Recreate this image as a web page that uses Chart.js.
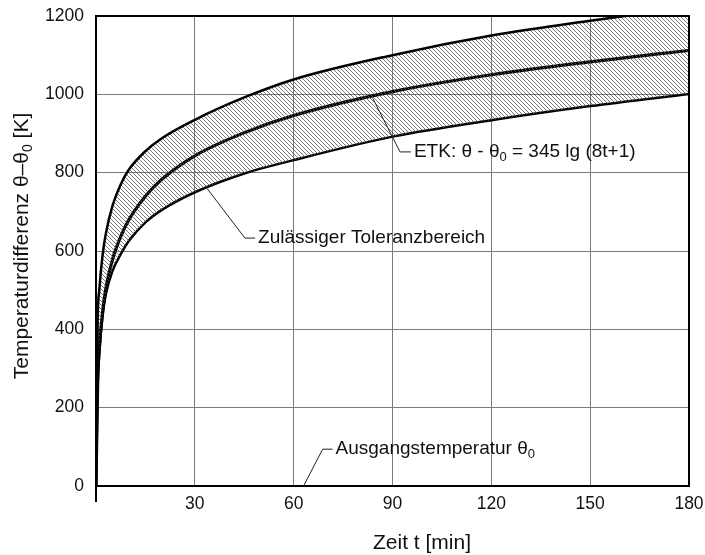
<!DOCTYPE html>
<html>
<head>
<meta charset="utf-8">
<script src="https://cdn.jsdelivr.net/npm/chart.js@4.4.1/dist/chart.umd.min.js"></script>
<style>
  body { margin: 0; background: #fff; }
  canvas { display: block; }
</style>
</head>
<body>
<canvas id="etkChart" width="705" height="555"></canvas>
<script>
// Einheits-Temperaturzeitkurve (ETK) mit Toleranzband

// -- Data --
const timeMin = [0, 0.5, 1, 2, 3, 5, 7.5, 10, 15, 20, 30, 45, 60, 90, 120, 150, 180];
const etkValues = [0, 262, 350, 445, 505, 578, 637, 680, 740, 783, 843, 902, 946, 1007, 1050, 1083, 1112];
const upperValues = [0, 420, 500, 590, 645, 715, 770, 808, 855, 888, 935, 992, 1038, 1100, 1150, 1188, 1222];
const lowerValues = [0, 250, 340, 435, 490, 549, 592, 626, 673, 705, 750, 798, 832, 892, 934, 970, 1001];
const xTicks = [0, 30, 60, 90, 120, 150, 180];
const yTicks = [0, 200, 400, 600, 800, 1000, 1200];

const FONT = "'Liberation Sans', Arial, sans-serif";

// callouts: leader start (on curve), bend, end, text parts [text, isSubscript]
const callouts = [
  { from: [84, 990], bend: [92.3, 853], to: [95.6, 853],
    text: [['ETK: θ - θ', false], ['0', true], [' = 345 lg (8t+1)', false]] },
  { from: [33.7, 760], bend: [45.2, 633], to: [48.3, 633],
    text: [['Zulässiger Toleranzbereich', false]] },
  { from: [63.0, 0], bend: [68.8, 94], to: [71.8, 94],
    text: [['Ausgangstemperatur θ', false], ['0', true]] }
];

const toPoints = vals => timeMin.map((t, i) => ({ x: t, y: vals[i] }));

// -- hatch pattern for the tolerance band --
function makeHatch() {
  const c = document.createElement('canvas');
  c.width = 4; c.height = 4;
  const g = c.getContext('2d');
  g.strokeStyle = '#555';
  g.lineWidth = 0.8;
  g.beginPath();
  g.moveTo(0, 0); g.lineTo(4, 4);
  g.moveTo(-1, 3); g.lineTo(1, 5);
  g.moveTo(3, -1); g.lineTo(5, 1);
  g.stroke();
  return g.createPattern(c, 'repeat');
}

// text with subscripts, returns width
function richText(ctx, parts, x, y, size, draw) {
  let w = 0;
  parts.forEach(([s, sub]) => {
    ctx.font = (sub ? Math.round(size * 0.68) : size) + 'px ' + FONT;
    if (draw) ctx.fillText(s, x + w, y + (sub ? size * 0.28 : 0));
    w += ctx.measureText(s).width;
  });
  return w;
}

const overlay = {
  id: 'overlay',
  afterDraw(chart) {
    const { ctx, chartArea: a, scales: { x, y } } = chart;
    ctx.save();
    // plot frame
    ctx.strokeStyle = '#000';
    ctx.lineWidth = 2;
    ctx.strokeRect(a.left, a.top, a.right - a.left, a.bottom - a.top);
    ctx.beginPath();
    ctx.moveTo(a.left, a.bottom);
    ctx.lineTo(a.left, a.bottom + 16);
    ctx.stroke();

    // callouts
    ctx.lineWidth = 1;
    ctx.strokeStyle = '#222';
    ctx.fillStyle = '#111';
    ctx.textBaseline = 'middle';
    callouts.forEach(c => {
      const p = v => [x.getPixelForValue(v[0]), y.getPixelForValue(v[1])];
      const [x0, y0] = p(c.from), [x1, y1] = p(c.bend), [x2, y2] = p(c.to);
      ctx.beginPath();
      ctx.moveTo(x0, y0); ctx.lineTo(x1, y1); ctx.lineTo(x2, y2);
      ctx.stroke();
      richText(ctx, c.text, x2 + 3, y2, 19, true);
    });

    // axis titles
    const xt = [['Zeit t [min]', false]];
    const wx = richText(ctx, xt, 0, 0, 21, false);
    richText(ctx, xt, 422 - wx / 2, 543, 21, true);

    const yt = [['Temperaturdifferenz θ–θ', false], ['0', true], [' [K]', false]];
    ctx.translate(22, 246);
    ctx.rotate(-Math.PI / 2);
    const wy = richText(ctx, yt, 0, 0, 21, false);
    richText(ctx, yt, -wy / 2, 0, 21, true);
    ctx.restore();
  }
};

const hatch = makeHatch();
const lineStyle = { pointRadius: 0, borderColor: '#000', cubicInterpolationMode: 'monotone' };

new Chart(document.getElementById('etkChart'), {
  type: 'line',
  data: {
    datasets: [
      { ...lineStyle, label: 'Obere Grenze', data: toPoints(upperValues), borderWidth: 2.5,
        fill: { target: 2 }, backgroundColor: hatch },
      { ...lineStyle, label: 'ETK', data: toPoints(etkValues), borderWidth: 3.2, fill: false },
      { ...lineStyle, label: 'Untere Grenze', data: toPoints(lowerValues), borderWidth: 2.5, fill: false }
    ]
  },
  options: {
    responsive: false,
    animation: false,
    devicePixelRatio: 1,
    layout: { padding: { top: 16, right: 16, left: 0, bottom: 0 } },
    plugins: {
      legend: { display: false },
      tooltip: { enabled: false }
    },
    scales: {
      x: {
        type: 'linear',
        min: 0, max: 180,
        afterBuildTicks: s => { s.ticks = xTicks.map(v => ({ value: v })); },
        afterFit: s => { s.height = 69; s.paddingLeft = 0; s.paddingRight = 0; },
        grid: { color: '#7a7a7a', lineWidth: 1, drawTicks: false },
        border: { display: false },
        ticks: {
          padding: 8,
          color: '#111',
          font: { family: FONT, size: 17.5 },
          callback: v => (v === 0 ? '' : String(v))
        }
      },
      y: {
        type: 'linear',
        min: 0, max: 1200,
        afterBuildTicks: s => { s.ticks = yTicks.map(v => ({ value: v })); },
        afterFit: s => { s.width = 96; s.paddingTop = 0; s.paddingBottom = 0; },
        grid: { color: '#7a7a7a', lineWidth: 1, drawTicks: false },
        border: { display: false },
        ticks: {
          padding: 12,
          color: '#111',
          font: { family: FONT, size: 17.5 },
          callback: v => String(v)
        }
      }
    }
  },
  plugins: [overlay]
});
</script>
</body>
</html>
